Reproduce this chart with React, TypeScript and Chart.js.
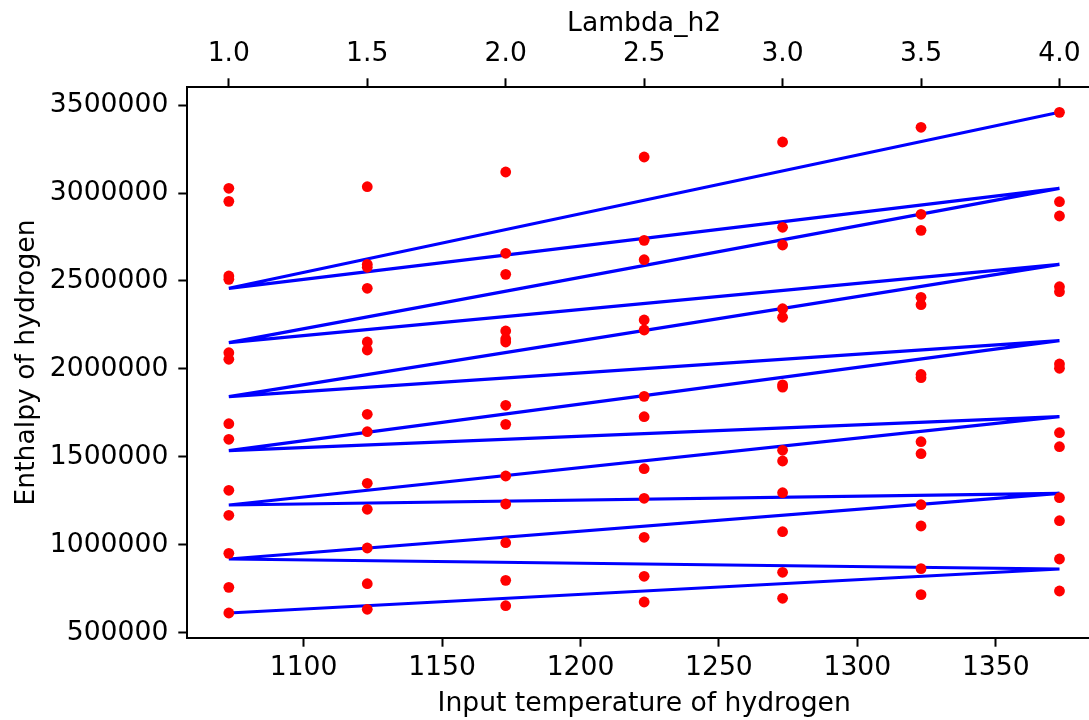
import React, { useEffect, useRef } from 'react';
import { Chart, registerables } from 'chart.js';

Chart.register(...registerables);

// ---- data ----
const temperatures = [1073, 1123, 1173, 1223, 1273, 1323, 1373];

const enthalpyAt1073 = [3026700, 2952800, 2528400, 2509600, 2092600, 2055100, 1689100, 1600500, 1310700, 1168700, 952700, 759500, 613500];
const enthalpyAt1123 = [3035800, 2594900, 2577800, 2458500, 2153400, 2107900, 1742600, 1643700, 1350500, 1202800, 982900, 780000, 634600];
const enthalpyAt1173 = [3119300, 2657400, 2538000, 2215900, 2170400, 2153400, 1793700, 1685700, 1392000, 1232900, 1013000, 799300, 655000];
const enthalpyAt1223 = [3204500, 2731200, 2621000, 2278400, 2221600, 1844800, 1728900, 1433400, 1265300, 1043700, 822100, 676000];
const enthalpyAt1273 = [3289800, 2805100, 2704500, 2342600, 2293700, 1910000, 1897000, 1538000, 1477200, 1297100, 1075500, 844800, 697100];
const enthalpyAt1323 = [3373300, 2878950, 2788000, 2407350, 2365300, 1968700, 1950500, 1586900, 1518700, 1228900, 1107900, 865300, 717600];
const enthalpyAt1373 = [3458500, 2950550, 2869300, 2467600, 2439200, 2028400, 2004000, 1638000, 1558500, 1268700, 1138000, 920400, 738600];

const enthalpyColumns = [enthalpyAt1073, enthalpyAt1123, enthalpyAt1173, enthalpyAt1223, enthalpyAt1273, enthalpyAt1323, enthalpyAt1373];

const lineTemperatures = [1073, 1373, 1073, 1373, 1073, 1373, 1073, 1373, 1073, 1373, 1073, 1373, 1073, 1373];
const lineEnthalpy = [613500, 863600, 920400, 1293700, 1227200, 1728900, 1535700, 2160800, 1842600, 2594900, 2150000, 3026700, 2458500, 3458500];

const temperatureTicks = [1100, 1150, 1200, 1250, 1300, 1350];
const lambdaTicks = [1.0, 1.5, 2.0, 2.5, 3.0, 3.5, 4.0];
const enthalpyTicks = [500000, 1000000, 1500000, 2000000, 2500000, 3000000, 3500000];

const xLabel = 'Input temperature of hydrogen';
const yLabel = 'Enthalpy of hydrogen';
const topLabel = 'Lambda_h2';

export default function App() {
  const canvasRef = useRef<HTMLCanvasElement | null>(null);

  useEffect(() => {
    const canvas = canvasRef.current;
    if (!canvas) return;

    const scatterPoints: { x: number; y: number }[] = [];
    temperatures.forEach((t, i) => {
      enthalpyColumns[i].forEach((h) => scatterPoints.push({ x: t, y: h }));
    });
    const linePoints = lineTemperatures.map((t, i) => ({ x: t, y: lineEnthalpy[i] }));

    const font = { family: 'DejaVu Sans', size: 26.6 };
    const grid = {
      display: true,
      drawOnChartArea: false,
      drawTicks: true,
      tickLength: 9,
      tickWidth: 2,
      tickColor: '#000',
    };
    const border = { display: true, color: '#000', width: 2 };

    const chart = new Chart(canvas, {
      type: 'scatter',
      data: {
        datasets: [
          {
            label: 'data',
            data: scatterPoints,
            backgroundColor: '#ff0000',
            borderWidth: 0,
            pointRadius: 5.4,
            pointHoverRadius: 5.4,
            showLine: false,
          },
          {
            label: 'fit',
            data: linePoints,
            showLine: true,
            borderColor: '#0000ff',
            borderWidth: 3.2,
            pointRadius: 0,
            pointHoverRadius: 0,
            fill: false,
            tension: 0,
          },
        ],
      },
      options: {
        animation: false,
        responsive: false,
        devicePixelRatio: 1,
        layout: { padding: 0, autoPadding: false },
        plugins: {
          legend: { display: false },
          tooltip: { enabled: false },
        },
        scales: {
          x: {
            type: 'linear',
            position: 'bottom',
            min: 1058,
            max: 1388,
            grid,
            border,
            ticks: {
              color: '#000',
              font,
              padding: 5,
              autoSkip: false,
              maxRotation: 0,
              callback: (v: any) => String(v),
            },
            afterBuildTicks: (s: any) => {
              s.ticks = temperatureTicks.map((v) => ({ value: v }));
            },
            afterFit: (s: any) => {
              s.height = 82.3;
            },
            title: {
              display: true,
              text: xLabel,
              color: '#000',
              font,
              padding: { top: 0, bottom: 0 },
            },
          },
          x2: {
            type: 'linear',
            position: 'top',
            min: 0.85,
            max: 4.15,
            grid,
            border,
            ticks: {
              color: '#000',
              font,
              padding: 8,
              autoSkip: false,
              maxRotation: 0,
              callback: (v: any) => Number(v).toFixed(1),
            },
            afterBuildTicks: (s: any) => {
              s.ticks = lambdaTicks.map((v) => ({ value: v }));
            },
            afterFit: (s: any) => {
              s.height = 87.3;
            },
            title: {
              display: true,
              text: topLabel,
              color: '#000',
              font,
              padding: { top: 8, bottom: 0 },
            },
          },
          y: {
            type: 'linear',
            position: 'left',
            min: 473200,
            max: 3600600,
            grid,
            border,
            ticks: {
              color: '#000',
              font,
              padding: 10,
              autoSkip: false,
              callback: (v: any) => String(v),
            },
            afterBuildTicks: (s: any) => {
              s.ticks = enthalpyTicks.map((v) => ({ value: v }));
            },
            afterFit: (s: any) => {
              s.width = 187.3;
            },
            title: {
              display: true,
              text: yLabel,
              color: '#000',
              font,
              padding: { top: 11, bottom: 0 },
            },
          },
        },
      },
    } as any);

    return () => chart.destroy();
  }, []);

  return (
    <div
      style={{
        position: 'fixed',
        left: 0,
        top: 0,
        width: 1089,
        height: 720,
        overflow: 'hidden',
        background: '#fff',
      }}
    >
      <canvas
        ref={canvasRef}
        width={1101}
        height={720}
        style={{ display: 'block', width: 1101, height: 720 }}
      />
    </div>
  );
}
